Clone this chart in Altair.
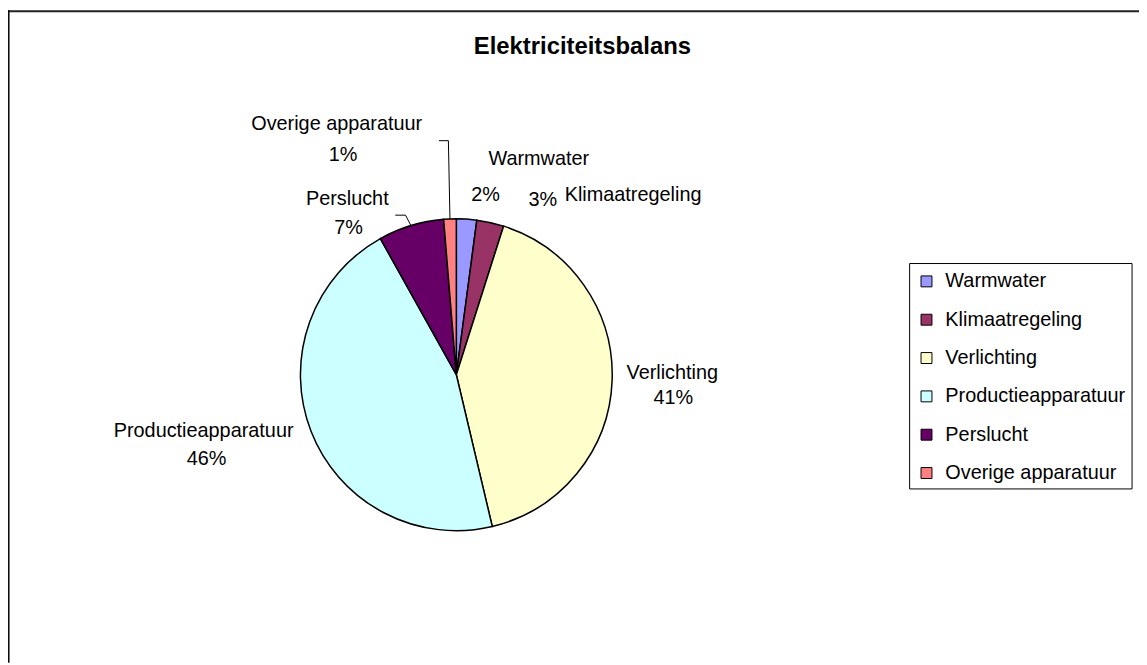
import math
import altair as alt
import pandas as pd

# ---- data ----
CATEGORIES = ["Warmwater", "Klimaatregeling", "Verlichting",
              "Productieapparatuur", "Perslucht", "Overige apparatuur"]
VALUES = [2.1, 2.8, 41.4, 45.6, 6.8, 1.3]
COLORS = ["#9999FF", "#993366", "#FFFFCC", "#CCFFFF", "#660066", "#FF8080"]
TITLE = "Elektriciteitsbalans"

# ---- layout (view coordinates; view origin is page (8,8)) ----
W, H = 1139, 657
CX, CY, R = 451.5, 367, 157
FONT = "Liberation Sans"
FS = 20

# label line centres relative to the pie centre (name line, percent line)
NAME_OFF = {
    "Warmwater": (83, -217.5),
    "Klimaatregeling": (178, -180.5),
    "Verlichting": (217.5, -2),
    "Productieapparatuur": (-254.5, 56.7),
    "Perslucht": (-109.8, -177),
    "Overige apparatuur": (-120.5, -252),
}
PCT_OFF = {
    "Warmwater": (29.5, -180.5),
    "Klimaatregeling": (87.2, -176),
    "Verlichting": (218.5, 23),
    "Productieapparatuur": (-251.5, 84.5),
    "Perslucht": (-108.5, -147.5),
    "Overige apparatuur": (-114, -221),
}
# leader line elbows (relative to centre), ending on the slice's mid-angle edge
LEADERS = {
    "Overige apparatuur": [(-17.5, -235.7), (-8, -235.7)],
    "Perslucht": [(-61.5, -160.7), (-51.2, -160.7)],
}

df = pd.DataFrame({"category": CATEGORIES, "value": VALUES,
                   "idx": list(range(len(CATEGORIES)))})

total = sum(VALUES)
mid_angle = {}
cum = 0.0
for c, v in zip(CATEGORIES, VALUES):
    mid_angle[c] = (cum + v / 2) / total * 2 * math.pi
    cum += v

rows = []
for c, v in zip(CATEGORIES, VALUES):
    nx, ny = NAME_OFF[c]
    px, py = PCT_OFF[c]
    rows.append({"t": c, "x": CX + nx, "y": CY + ny})
    rows.append({"t": f"{round(v)}%", "x": CX + px, "y": CY + py})
labels = pd.DataFrame(rows)

lrows = []
for c, pts in LEADERS.items():
    a = mid_angle[c]
    allpts = list(pts) + [(R * math.sin(a), -R * math.cos(a))]
    for i, (dx, dy) in enumerate(allpts):
        lrows.append({"g": c, "i": i, "x": CX + dx, "y": CY + dy})
leaders = pd.DataFrame(lrows)

one = pd.DataFrame({"a": [0]})

frame_top = alt.Chart(one).mark_rule(color="#222222", strokeWidth=2).encode(
    x=alt.value(0), x2=alt.value(W), y=alt.value(1))
frame_left = alt.Chart(one).mark_rule(color="black", strokeWidth=1.5).encode(
    x=alt.value(0.8), y=alt.value(0), y2=alt.value(H))

legend_box = alt.Chart(one).mark_rect(
    fill="white", stroke="black", strokeWidth=1
).encode(x=alt.value(908), x2=alt.value(1132), y=alt.value(255), y2=alt.value(482))

pie = alt.Chart(df).mark_arc(radius=R, stroke="black", strokeWidth=1.5).encode(
    theta=alt.Theta("value:Q", stack=True),
    color=alt.Color(
        "category:N",
        scale=alt.Scale(domain=CATEGORIES, range=COLORS),
        sort=CATEGORIES,
        legend=alt.Legend(
            orient="none", legendX=907, legendY=255, title=None,
            symbolType="square", symbolSize=121, symbolStrokeColor="black",
            symbolStrokeWidth=1, symbolOpacity=1,
            labelFont=FONT, labelFontSize=FS, labelColor="black",
            labelOffset=9, rowPadding=18.6, padding=8, labelLimit=400,
        ),
    ),
    order=alt.Order("idx:Q"),
    x=alt.value(CX), y=alt.value(CY),
)

leader_lines = alt.Chart(leaders).mark_line(color="black", strokeWidth=1).encode(
    x=alt.X("x:Q", scale=None), y=alt.Y("y:Q", scale=None),
    detail="g:N", order="i:Q",
)

label_text = alt.Chart(labels).mark_text(
    font=FONT, fontSize=FS, color="black", align="center", baseline="middle"
).encode(x=alt.X("x:Q", scale=None), y=alt.Y("y:Q", scale=None), text="t:N")

title = alt.Chart(pd.DataFrame({"t": [TITLE]})).mark_text(
    font=FONT, fontSize=24, fontWeight="bold", color="black",
    align="center", baseline="middle"
).encode(x=alt.value(578.5), y=alt.value(37.5), text="t:N")

chart = alt.layer(frame_top, frame_left, legend_box, pie, leader_lines,
                  label_text, title).properties(
    width=W, height=H, padding=0, background="white",
    autosize=alt.AutoSizeParams(type="none"),
).configure_view(stroke=None)

chart.save("out.html", embed_options={"renderer": "svg", "actions": False})
